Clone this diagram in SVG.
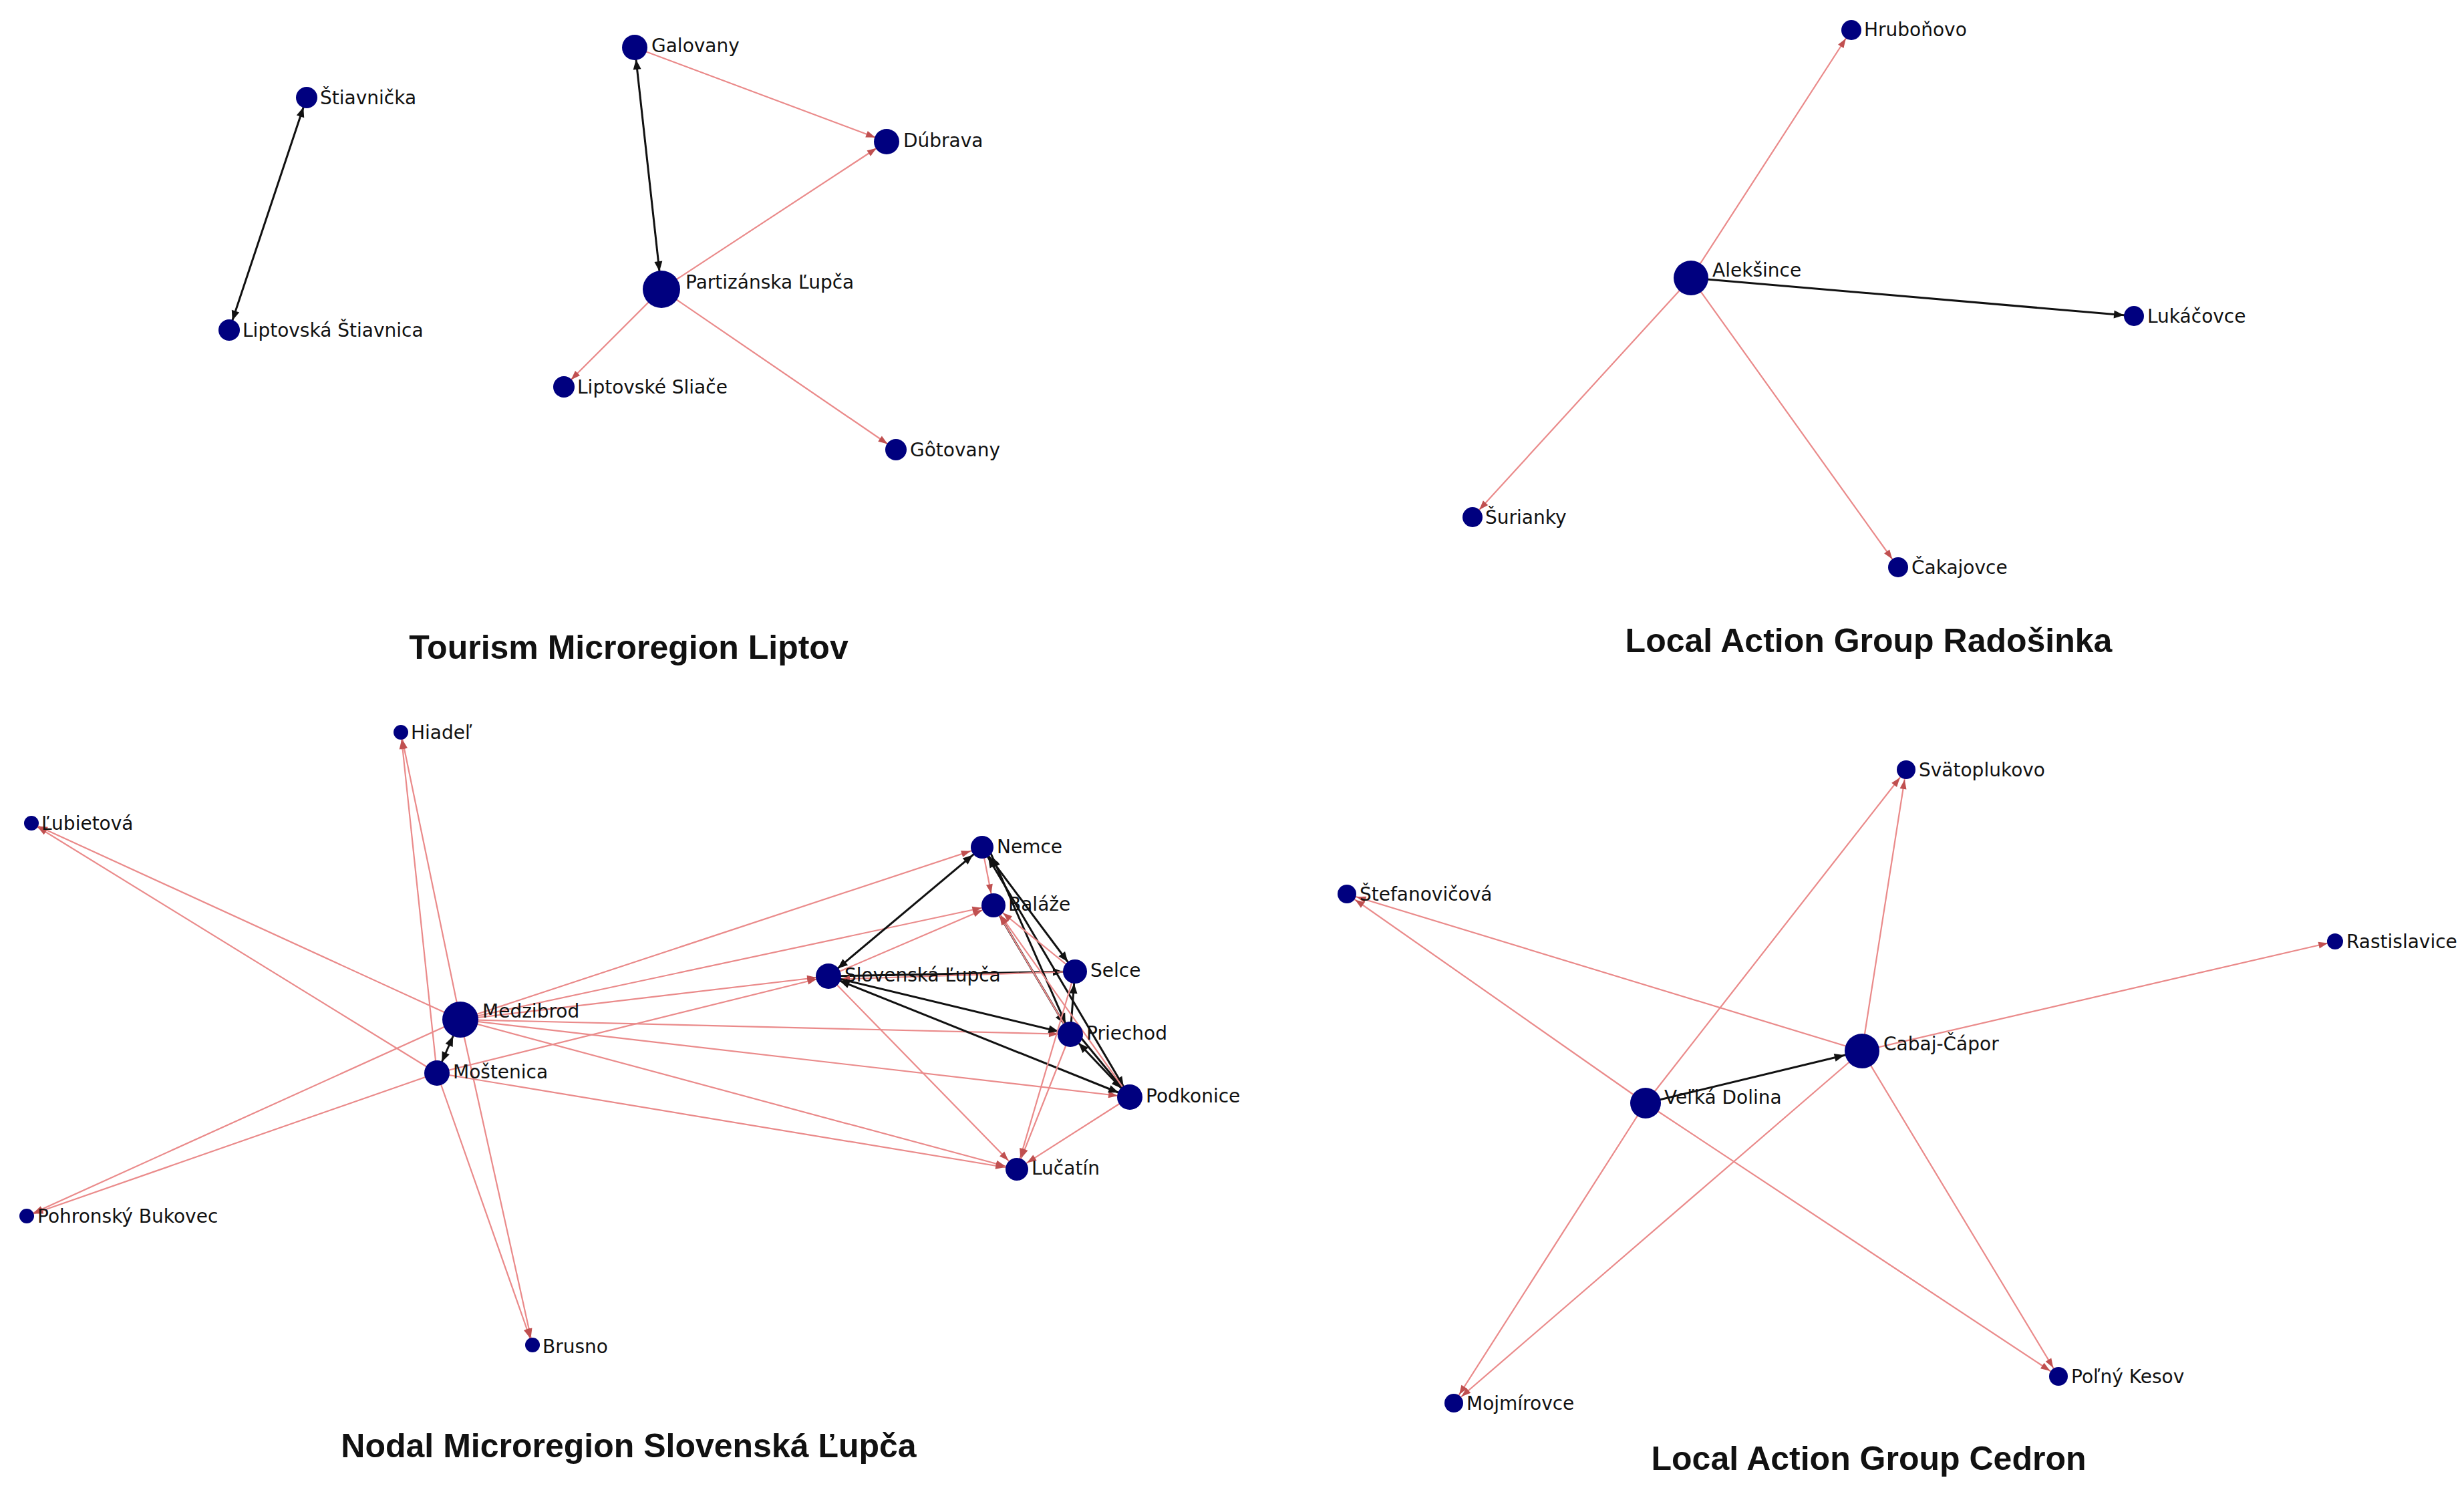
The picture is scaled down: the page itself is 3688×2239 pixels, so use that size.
<svg xmlns="http://www.w3.org/2000/svg" width="3688" height="2239" viewBox="0 0 3688 2239">
<style>
.r{stroke:#ea8a8a;stroke-width:2.2;fill:none}
.k{stroke:#111;stroke-width:3;fill:none}
.n{fill:#00007f}
.l{font-family:"DejaVu Sans",sans-serif;font-size:28px;fill:#111}
.t{font-family:"Liberation Sans",sans-serif;font-weight:bold;font-size:50px;fill:#111;text-anchor:middle}
</style>
<defs>
<marker id="r11" markerUnits="userSpaceOnUse" markerWidth="60" markerHeight="30" viewBox="-60 -15 60 30" refX="11" refY="0" orient="auto-start-reverse"><path d="M0,0L-14,-5L-14,5z" fill="#c05050"/></marker>
<marker id="r15" markerUnits="userSpaceOnUse" markerWidth="60" markerHeight="30" viewBox="-60 -15 60 30" refX="15" refY="0" orient="auto-start-reverse"><path d="M0,0L-14,-5L-14,5z" fill="#c05050"/></marker>
<marker id="r18" markerUnits="userSpaceOnUse" markerWidth="60" markerHeight="30" viewBox="-60 -15 60 30" refX="18" refY="0" orient="auto-start-reverse"><path d="M0,0L-14,-5L-14,5z" fill="#c05050"/></marker>
<marker id="r24" markerUnits="userSpaceOnUse" markerWidth="60" markerHeight="30" viewBox="-60 -15 60 30" refX="24" refY="0" orient="auto-start-reverse"><path d="M0,0L-14,-5L-14,5z" fill="#c05050"/></marker>
<marker id="r27" markerUnits="userSpaceOnUse" markerWidth="60" markerHeight="30" viewBox="-60 -15 60 30" refX="27" refY="0" orient="auto-start-reverse"><path d="M0,0L-14,-5L-14,5z" fill="#c05050"/></marker>
<marker id="k11" markerUnits="userSpaceOnUse" markerWidth="60" markerHeight="30" viewBox="-60 -15 60 30" refX="11" refY="0" orient="auto-start-reverse"><path d="M0,0L-15,-6L-15,6z" fill="#111"/></marker>
<marker id="k15" markerUnits="userSpaceOnUse" markerWidth="60" markerHeight="30" viewBox="-60 -15 60 30" refX="15" refY="0" orient="auto-start-reverse"><path d="M0,0L-15,-6L-15,6z" fill="#111"/></marker>
<marker id="k18" markerUnits="userSpaceOnUse" markerWidth="60" markerHeight="30" viewBox="-60 -15 60 30" refX="18" refY="0" orient="auto-start-reverse"><path d="M0,0L-15,-6L-15,6z" fill="#111"/></marker>
<marker id="k24" markerUnits="userSpaceOnUse" markerWidth="60" markerHeight="30" viewBox="-60 -15 60 30" refX="24" refY="0" orient="auto-start-reverse"><path d="M0,0L-15,-6L-15,6z" fill="#111"/></marker>
<marker id="k27" markerUnits="userSpaceOnUse" markerWidth="60" markerHeight="30" viewBox="-60 -15 60 30" refX="27" refY="0" orient="auto-start-reverse"><path d="M0,0L-15,-6L-15,6z" fill="#111"/></marker>
</defs>
<rect width="3688" height="2239" fill="#fff"/>
<g id="connectors">
<line class="k" x1="459" y1="146" x2="343" y2="494" marker-start="url(#k15)" marker-end="url(#k15)"/>
<line class="k" x1="950" y1="71" x2="990" y2="433" marker-start="url(#k18)" marker-end="url(#k27)"/>
<line class="r" x1="950" y1="71" x2="1327" y2="212" marker-end="url(#r18)"/>
<line class="r" x1="990" y1="433" x2="1327" y2="212" marker-end="url(#r18)"/>
<line class="r" x1="990" y1="433" x2="844" y2="579" marker-end="url(#r15)"/>
<line class="r" x1="990" y1="433" x2="1341" y2="673" marker-end="url(#r15)"/>
<line class="r" x1="2531" y1="416" x2="2771" y2="45" marker-end="url(#r15)"/>
<line class="k" x1="2531" y1="416" x2="3194" y2="473" marker-end="url(#k15)"/>
<line class="r" x1="2531" y1="416" x2="2204" y2="774" marker-end="url(#r15)"/>
<line class="r" x1="2531" y1="416" x2="2841" y2="849" marker-end="url(#r15)"/>
<line class="r" x1="689" y1="1526" x2="600" y2="1096" marker-end="url(#r11)"/>
<line class="r" x1="654" y1="1606" x2="600" y2="1096" marker-end="url(#r11)"/>
<line class="r" x1="689" y1="1526" x2="47" y2="1232" marker-end="url(#r11)"/>
<line class="r" x1="654" y1="1606" x2="47" y2="1232" marker-end="url(#r11)"/>
<line class="r" x1="689" y1="1526" x2="40" y2="1820" marker-end="url(#r11)"/>
<line class="r" x1="654" y1="1606" x2="40" y2="1820" marker-end="url(#r11)"/>
<line class="r" x1="689" y1="1526" x2="797" y2="2013" marker-end="url(#r11)"/>
<line class="r" x1="654" y1="1606" x2="797" y2="2013" marker-end="url(#r11)"/>
<line class="k" x1="689" y1="1526" x2="654" y2="1606" marker-start="url(#k27)" marker-end="url(#k18)"/>
<line class="r" x1="689" y1="1526" x2="1470" y2="1268" marker-end="url(#r18)"/>
<line class="r" x1="689" y1="1526" x2="1487" y2="1355" marker-end="url(#r18)"/>
<line class="r" x1="689" y1="1526" x2="1240" y2="1461" marker-end="url(#r18)"/>
<line class="r" x1="689" y1="1526" x2="1602" y2="1548" marker-end="url(#r18)"/>
<line class="r" x1="689" y1="1526" x2="1691" y2="1642" marker-end="url(#r18)"/>
<line class="r" x1="689" y1="1526" x2="1522" y2="1750" marker-end="url(#r18)"/>
<line class="r" x1="654" y1="1606" x2="1240" y2="1461" marker-end="url(#r18)"/>
<line class="r" x1="654" y1="1606" x2="1522" y2="1750" marker-end="url(#r18)"/>
<line class="k" x1="1240" y1="1461" x2="1470" y2="1268" marker-start="url(#k18)" marker-end="url(#k18)"/>
<line class="r" x1="1240" y1="1461" x2="1487" y2="1355" marker-end="url(#r18)"/>
<line class="k" x1="1240" y1="1461" x2="1609" y2="1454" marker-end="url(#k18)"/>
<line class="r" x1="1609" y1="1454" x2="1240" y2="1466" marker-end="url(#r18)"/>
<line class="k" x1="1240" y1="1461" x2="1602" y2="1548" marker-end="url(#k18)"/>
<line class="k" x1="1240" y1="1461" x2="1691" y2="1642" marker-start="url(#k18)" marker-end="url(#k18)"/>
<line class="r" x1="1240" y1="1461" x2="1522" y2="1750" marker-end="url(#r18)"/>
<line class="r" x1="1470" y1="1268" x2="1487" y2="1355" marker-end="url(#r18)"/>
<line class="k" x1="1470" y1="1268" x2="1609" y2="1454" marker-start="url(#k18)" marker-end="url(#k18)"/>
<line class="k" x1="1478" y1="1266" x2="1602" y2="1548" marker-start="url(#k18)" marker-end="url(#k18)"/>
<line class="k" x1="1470" y1="1268" x2="1691" y2="1642" marker-start="url(#k18)" marker-end="url(#k18)"/>
<line class="k" x1="1487" y1="1355" x2="1602" y2="1548" marker-end="url(#k18)"/>
<line class="k" x1="1602" y1="1548" x2="1691" y2="1642" marker-start="url(#k18)" marker-end="url(#k18)"/>
<line class="k" x1="1612" y1="1546" x2="1691" y2="1642" marker-end="url(#k18)"/>
<line class="k" x1="1602" y1="1548" x2="1609" y2="1454" marker-end="url(#k18)"/>
<line class="r" x1="1609" y1="1454" x2="1487" y2="1355" marker-end="url(#r18)"/>
<line class="r" x1="1602" y1="1548" x2="1487" y2="1355" marker-end="url(#r18)"/>
<line class="r" x1="1691" y1="1642" x2="1487" y2="1355" marker-end="url(#r18)"/>
<line class="r" x1="1609" y1="1454" x2="1522" y2="1750" marker-end="url(#r18)"/>
<line class="r" x1="1602" y1="1548" x2="1522" y2="1750" marker-end="url(#r18)"/>
<line class="r" x1="1691" y1="1642" x2="1522" y2="1750" marker-end="url(#r18)"/>
<line class="k" x1="2463" y1="1651" x2="2787" y2="1573" marker-end="url(#k27)"/>
<line class="r" x1="2463" y1="1651" x2="2853" y2="1152" marker-end="url(#r15)"/>
<line class="r" x1="2787" y1="1573" x2="2853" y2="1152" marker-end="url(#r15)"/>
<line class="r" x1="2787" y1="1573" x2="2016" y2="1338" marker-end="url(#r15)"/>
<line class="r" x1="2463" y1="1651" x2="2016" y2="1338" marker-end="url(#r15)"/>
<line class="r" x1="2787" y1="1573" x2="3495" y2="1409" marker-end="url(#r11)"/>
<line class="r" x1="2463" y1="1651" x2="2176" y2="2100" marker-end="url(#r15)"/>
<line class="r" x1="2787" y1="1573" x2="2176" y2="2100" marker-end="url(#r15)"/>
<line class="r" x1="2463" y1="1651" x2="3081" y2="2060" marker-end="url(#r15)"/>
<line class="r" x1="2787" y1="1573" x2="3081" y2="2060" marker-end="url(#r15)"/>
</g>
<g id="n-stiavnicka"><circle class="n" cx="459" cy="146" r="16"/><text class="l" x="479" y="156">Štiavnička</text></g>
<g id="n-liptovska-stiavnica"><circle class="n" cx="343" cy="494" r="16"/><text class="l" x="363" y="504">Liptovská Štiavnica</text></g>
<g id="n-galovany"><circle class="n" cx="950" cy="71" r="19"/><text class="l" x="975" y="78">Galovany</text></g>
<g id="n-dubrava"><circle class="n" cx="1327" cy="212" r="19"/><text class="l" x="1352" y="220">Dúbrava</text></g>
<g id="n-partizanska"><circle class="n" cx="990" cy="433" r="28"/><text class="l" x="1026" y="432">Partizánska Ľupča</text></g>
<g id="n-sliace"><circle class="n" cx="844" cy="579" r="16"/><text class="l" x="864" y="589">Liptovské Sliače</text></g>
<g id="n-gotovany"><circle class="n" cx="1341" cy="673" r="16"/><text class="l" x="1362" y="683">Gôtovany</text></g>
<text class="t" x="941" y="986">Tourism Microregion Liptov</text>
<g id="n-hrubonovo"><circle class="n" cx="2771" cy="45" r="15"/><text class="l" x="2790" y="54">Hruboňovo</text></g>
<g id="n-aleksince"><circle class="n" cx="2531" cy="416" r="26"/><text class="l" x="2563" y="414">Alekšince</text></g>
<g id="n-lukacovce"><circle class="n" cx="3194" cy="473" r="15"/><text class="l" x="3214" y="483">Lukáčovce</text></g>
<g id="n-surianky"><circle class="n" cx="2204" cy="774" r="15"/><text class="l" x="2223" y="784">Šurianky</text></g>
<g id="n-cakajovce"><circle class="n" cx="2841" cy="849" r="15"/><text class="l" x="2861" y="859">Čakajovce</text></g>
<text class="t" x="2797" y="976">Local Action Group Radošinka</text>
<g id="n-hiadel"><circle class="n" cx="600" cy="1096" r="11"/><text class="l" x="615" y="1106">Hiadeľ</text></g>
<g id="n-lubietova"><circle class="n" cx="47" cy="1232" r="11"/><text class="l" x="62" y="1242">Ľubietová</text></g>
<g id="n-medzibrod"><circle class="n" cx="689" cy="1526" r="27"/><text class="l" x="722" y="1523">Medzibrod</text></g>
<g id="n-mostenica"><circle class="n" cx="654" cy="1606" r="19"/><text class="l" x="678" y="1614">Moštenica</text></g>
<g id="n-pohronsky"><circle class="n" cx="40" cy="1820" r="11"/><text class="l" x="56" y="1830">Pohronský Bukovec</text></g>
<g id="n-brusno"><circle class="n" cx="797" cy="2013" r="11"/><text class="l" x="812" y="2025">Brusno</text></g>
<g id="n-slovenska"><circle class="n" cx="1240" cy="1461" r="19"/><text class="l" x="1264" y="1469">Slovenská Ľupča</text></g>
<g id="n-nemce"><circle class="n" cx="1470" cy="1268" r="17"/><text class="l" x="1492" y="1277">Nemce</text></g>
<g id="n-balaze"><circle class="n" cx="1487" cy="1355" r="18"/><text class="l" x="1509" y="1363">Baláže</text></g>
<g id="n-selce"><circle class="n" cx="1609" cy="1454" r="18"/><text class="l" x="1632" y="1462">Selce</text></g>
<g id="n-priechod"><circle class="n" cx="1602" cy="1548" r="19"/><text class="l" x="1626" y="1556">Priechod</text></g>
<g id="n-podkonice"><circle class="n" cx="1691" cy="1642" r="19"/><text class="l" x="1715" y="1650">Podkonice</text></g>
<g id="n-lucatin"><circle class="n" cx="1522" cy="1750" r="17"/><text class="l" x="1544" y="1758">Lučatín</text></g>
<text class="t" x="941" y="2181">Nodal Microregion Slovenská Ľupča</text>
<g id="n-svatoplukovo"><circle class="n" cx="2853" cy="1152" r="14"/><text class="l" x="2872" y="1162">Svätoplukovo</text></g>
<g id="n-stefanovicova"><circle class="n" cx="2016" cy="1338" r="14"/><text class="l" x="2035" y="1348">Štefanovičová</text></g>
<g id="n-rastislavice"><circle class="n" cx="3495" cy="1409" r="12"/><text class="l" x="3512" y="1419">Rastislavice</text></g>
<g id="n-cabaj"><circle class="n" cx="2787" cy="1573" r="26"/><text class="l" x="2819" y="1572">Cabaj-Čápor</text></g>
<g id="n-velka"><circle class="n" cx="2463" cy="1651" r="23"/><text class="l" x="2491" y="1652">Veľká Dolina</text></g>
<g id="n-mojmirovce"><circle class="n" cx="2176" cy="2100" r="14"/><text class="l" x="2195" y="2110">Mojmírovce</text></g>
<g id="n-polny"><circle class="n" cx="3081" cy="2060" r="14"/><text class="l" x="3100" y="2070">Poľný Kesov</text></g>
<text class="t" x="2797" y="2200">Local Action Group Cedron</text>
</svg>
